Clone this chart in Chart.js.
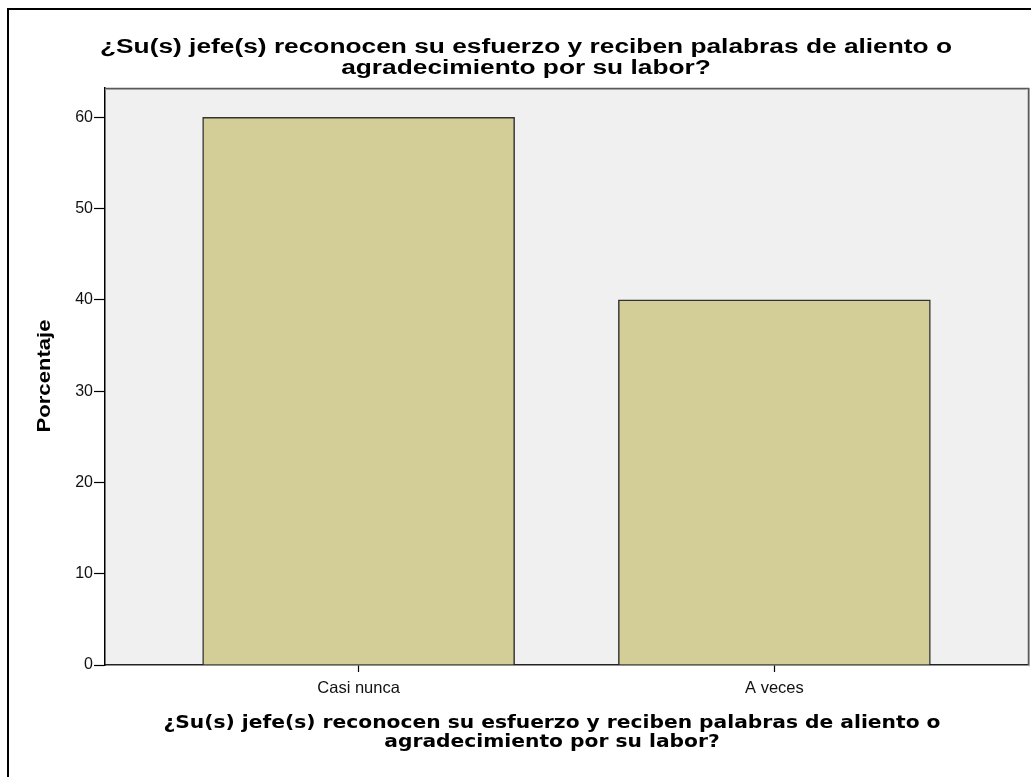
<!DOCTYPE html>
<html>
<head>
<meta charset="utf-8">
<title>¿Su(s) jefe(s) reconocen su esfuerzo y reciben palabras de aliento o agradecimiento por su labor?</title>
<script src="https://cdn.jsdelivr.net/npm/chart.js@4/dist/chart.umd.min.js"></script>
<style>
  html, body { margin: 0; padding: 0; background: #ffffff; }
  #wrap { position: relative; width: 1031px; height: 777px; overflow: hidden; }
  canvas { display: block; }
</style>
</head>
<body>
<div id="wrap"><canvas id="chart" width="1031" height="777"></canvas></div>
<script>
// Response categories and their share of answers (%)
const categories = ['Casi nunca', 'A veces'];
const percentages = [60, 40];
const yTicks = [0, 10, 20, 30, 40, 50, 60];

const titleLines = [
  '¿Su(s) jefe(s) reconocen su esfuerzo y reciben palabras de aliento o',
  'agradecimiento por su labor?'
];
const xTitleLines = [
  '¿Su(s) jefe(s) reconocen su esfuerzo y reciben palabras de aliento o',
  'agradecimiento por su labor?'
];
const yTitle = 'Porcentaje';

const BAR_FILL = '#d3ce97';
const BAR_EDGE = '#333333';
const PLOT_BG = '#f0f0f0';

// Draw a block of centred lines, widened horizontally so the first line spans `width`.
function drawLines(ctx, lines, cx, baselines, font, width) {
  ctx.save();
  ctx.font = font;
  ctx.fillStyle = '#000';
  ctx.textAlign = 'center';
  ctx.textBaseline = 'alphabetic';
  const sx = width / ctx.measureText(lines[0]).width;
  lines.forEach((line, i) => {
    ctx.save();
    ctx.translate(cx, baselines[i]);
    ctx.scale(sx, 1);
    ctx.fillText(line, 0, 0);
    ctx.restore();
  });
  ctx.restore();
}

const decor = {
  id: 'decor',
  beforeDraw(chart) {
    const { ctx, chartArea: a } = chart;
    ctx.save();
    ctx.fillStyle = '#fff';
    ctx.fillRect(0, 0, chart.width, chart.height);
    // outer frame (top and left edges)
    ctx.fillStyle = '#000';
    ctx.fillRect(7, 8, 2, chart.height - 8);
    ctx.fillRect(7, 8, chart.width - 7, 2);
    // plot background
    ctx.fillStyle = PLOT_BG;
    ctx.fillRect(a.left, a.top, a.right - a.left, a.bottom - a.top);
    ctx.restore();
  },
  afterDraw(chart) {
    const { ctx, chartArea: a } = chart;
    ctx.save();
    // top and right edges of the plot frame
    ctx.strokeStyle = '#bdbdbd';
    ctx.lineWidth = 1;
    ctx.beginPath();
    ctx.moveTo(a.left, a.top + 1.5);
    ctx.lineTo(a.right - 1.5, a.top + 1.5);
    ctx.moveTo(a.right + 1.5, a.top);
    ctx.lineTo(a.right + 1.5, a.bottom + 1.5);
    ctx.stroke();
    ctx.strokeStyle = '#5a5a5a';
    ctx.lineWidth = 1.5;
    ctx.beginPath();
    ctx.moveTo(a.left, a.top + 0.5);
    ctx.lineTo(a.right + 0.5, a.top + 0.5);
    ctx.lineTo(a.right + 0.5, a.bottom);
    ctx.stroke();
    ctx.restore();

    // chart title
    drawLines(ctx, titleLines, 526, [53, 74], 'bold 20px "Liberation Sans", Arial, sans-serif', 852);
    // x-axis title
    drawLines(ctx, xTitleLines, 552, [728, 747], 'bold 17px "DejaVu Sans", Verdana, sans-serif', 777);
    // y-axis title
    ctx.save();
    ctx.translate(50, 376);
    ctx.rotate(-Math.PI / 2);
    drawLines(ctx, [yTitle], 0, [0], 'bold 19px "Liberation Sans", Arial, sans-serif', 113);
    ctx.restore();
  }
};

new Chart(document.getElementById('chart'), {
  type: 'bar',
  data: {
    datasets: [{
      data: categories.map((c, i) => ({ x: i + 1, y: percentages[i] })),
      backgroundColor: BAR_FILL,
      borderColor: BAR_EDGE,
      borderWidth: 1.5,
      barThickness: 312
    }]
  },
  options: {
    responsive: false,
    devicePixelRatio: 1,
    animation: false,
    events: [],
    layout: { padding: { top: 88, left: 0, right: 3, bottom: 0 } },
    plugins: { legend: { display: false }, title: { display: false }, tooltip: { enabled: false } },
    scales: {
      x: {
        type: 'linear',
        offset: false,
        min: 0.39,
        max: 2.61,
        afterBuildTicks(scale) { scale.ticks = categories.map((c, i) => ({ value: i + 1 })); },
        afterFit(scale) { scale.height = 112; },
        ticks: {
          autoSkip: false,
          maxRotation: 0,
          padding: 7,
          color: '#111',
          font: { family: '"Liberation Sans", Arial, sans-serif', size: 16.5 },
          callback: (v) => categories[v - 1]
        },
        grid: { offset: false, drawOnChartArea: false, drawTicks: true, tickLength: 7, tickColor: '#000', tickWidth: 1.2 },
        border: { display: true, color: '#222', width: 1.5 }
      },
      y: {
        type: 'linear',
        min: 0,
        max: 63.2,
        afterBuildTicks(scale) { scale.ticks = yTicks.map(v => ({ value: v })); },
        afterFit(scale) { scale.width = 105; },
        ticks: {
          padding: 1,
          color: '#111',
          font: { family: '"Liberation Sans", Arial, sans-serif', size: 16 }
        },
        grid: { drawOnChartArea: false, drawTicks: true, tickLength: 11, tickColor: '#000', tickWidth: 1.2 },
        border: { display: true, color: '#000', width: 1.5 }
      }
    }
  },
  plugins: [decor]
});
</script>
</body>
</html>
